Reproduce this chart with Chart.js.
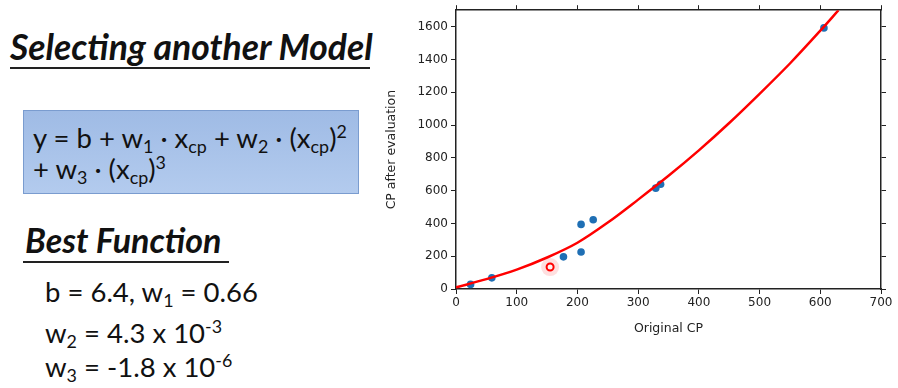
<!DOCTYPE html>
<html>
<head>
<meta charset="utf-8">
<script src="https://cdn.jsdelivr.net/npm/chart.js@4.4.0/dist/chart.umd.min.js"></script>
<style>
  body { margin: 0; background: #fff; width: 898px; height: 388px; overflow: hidden; position: relative; font-family: Lato, "Open Sans", sans-serif; color: #111; }
  .t { position: absolute; white-space: nowrap; line-height: 1; }
  .head { font-weight: bold; font-style: italic; }
  .rule { position: absolute; height: 2px; background: #222; }
  .box { position: absolute; left: 23px; top: 110px; width: 334px; height: 82px;
         background: linear-gradient(to bottom, #9fbbe5, #b3cbee); border: 1px solid #7a9ccf; }
  sub { font-size: 0.65em; vertical-align: -0.3em; line-height: 0; }
  sup { font-size: 0.65em; vertical-align: 0.55em; line-height: 0; }
  #wrap { position: absolute; left: 380px; top: 0; width: 518px; height: 340px; }
</style>
</head>
<body>
<div class="t head" style="left:10px; top:29px; font-size:35.5px;">Selecting another Model</div>
<div class="rule" style="left:10px; top:67px; width:360px;"></div>

<div class="box"></div>
<div class="t" style="left:33px; top:124px; font-size:27.5px;">y = b + w<sub>1</sub> &middot; x<sub>cp</sub> + w<sub>2</sub> &middot; (x<sub>cp</sub>)<sup>2</sup></div>
<div class="t" style="left:33px; top:155px; font-size:27.5px;">+ w<sub>3</sub> &middot; (x<sub>cp</sub>)<sup>3</sup></div>

<div class="t head" style="left:25px; top:223px; font-size:34px;">Best Function</div>
<div class="rule" style="left:23px; top:261px; width:206px;"></div>

<div class="t" style="left:45px; top:278px; font-size:27.5px;">b = 6.4, w<sub>1</sub> = 0.66</div>
<div class="t" style="left:45px; top:319px; font-size:27.5px;">w<sub>2</sub> = 4.3 x 10<sup>-3</sup></div>
<div class="t" style="left:45px; top:353px; font-size:27.5px;">w<sub>3</sub> = -1.8 x 10<sup>-6</sup></div>

<div id="wrap"><canvas id="chartCanvas"></canvas></div>

<script>
// observed pokemon: original CP vs CP after evolution
const cpBefore = [24, 59, 177, 206, 206, 226, 329, 337, 606];
const cpAfter  = [28, 68, 196, 226, 394, 422, 615, 639, 1592];

// highlighted test point
const testX = [155];
const testY = [134];

// fitted curve
const curveX = [0, 50, 100, 150, 200, 250, 300, 350, 400, 450, 500, 550, 600, 630];
const curveY = [10, 60, 118, 192, 282, 405, 545, 690, 845, 1012, 1190, 1375, 1575, 1700];

const xTicks = [0, 100, 200, 300, 400, 500, 600, 700];
const yTicks = [0, 200, 400, 600, 800, 1000, 1200, 1400, 1600];

function pairs(xs, ys) {
    return xs.map((x, i) => ({x: x, y: ys[i]}));
}

const tickFont = {family: 'DejaVu Sans', size: 12};
const titleFont = {family: 'DejaVu Sans', size: 12.5};
const frame = {display: true, color: '#222', width: 1.5};

function fixedSize(w, h) {
    return function (scale) {
        if (w !== null) scale.width = w;
        if (h !== null) scale.height = h;
    };
}

function setTicks(list) {
    return function (scale) {
        scale.ticks = list.map((v) => ({value: v}));
    };
}

const plain = (v) => String(v);

new Chart(document.getElementById('chartCanvas'), {
    type: 'scatter',
    data: {
        datasets: [
            {
                label: 'fit',
                type: 'line',
                data: pairs(curveX, curveY),
                borderColor: '#ff0000',
                borderWidth: 2.5,
                pointRadius: 0,
                cubicInterpolationMode: 'monotone',
                order: 0
            },
            {
                label: 'glow',
                data: pairs(testX, testY),
                backgroundColor: 'rgba(255, 80, 80, 0.18)',
                borderWidth: 0,
                pointRadius: 9,
                order: 3
            },
            {
                label: 'test',
                data: pairs(testX, testY),
                backgroundColor: 'rgba(255,255,255,0.6)',
                borderColor: '#ff0000',
                borderWidth: 2,
                pointRadius: 3.5,
                order: 1
            },
            {
                label: 'train',
                data: pairs(cpBefore, cpAfter),
                backgroundColor: '#1f6fb4',
                borderWidth: 0,
                pointRadius: 3.8,
                order: 2
            }
        ]
    },
    options: {
        responsive: true,
        maintainAspectRatio: false,
        animation: false,
        layout: {padding: 0},
        plugins: {legend: {display: false}, tooltip: {enabled: false}},
        scales: {
            x: {
                type: 'linear', position: 'bottom', min: 0, max: 700,
                afterBuildTicks: setTicks(xTicks),
                afterFit: fixedSize(null, 51),
                border: frame,
                grid: {drawOnChartArea: false, drawTicks: true, tickLength: 5, color: '#222'},
                ticks: {font: tickFont, color: '#222', padding: 2, maxRotation: 0, callback: plain},
                title: {display: true, text: 'Original CP', font: titleFont, color: '#222', padding: {top: 1}}
            },
            x2: {
                type: 'linear', position: 'top', min: 0, max: 700,
                afterBuildTicks: setTicks(xTicks),
                afterFit: fixedSize(null, 6),
                border: frame,
                grid: {drawOnChartArea: false, drawTicks: true, tickLength: 5, color: '#222'},
                ticks: {display: false}
            },
            y: {
                type: 'linear', position: 'left', min: 0, max: 1700,
                afterBuildTicks: setTicks(yTicks),
                afterFit: fixedSize(76, null),
                border: frame,
                grid: {drawOnChartArea: false, drawTicks: true, tickLength: 5, color: '#222'},
                ticks: {font: tickFont, color: '#222', padding: 3, callback: plain},
                title: {display: true, text: 'CP after evaluation', font: titleFont, color: '#222', padding: {top: 4, bottom: 0}}
            },
            y2: {
                type: 'linear', position: 'right', min: 0, max: 1700,
                afterBuildTicks: setTicks(yTicks),
                afterFit: fixedSize(17, null),
                border: frame,
                grid: {drawOnChartArea: false, drawTicks: true, tickLength: 5, color: '#222'},
                ticks: {display: false}
            }
        }
    }
});
</script>
</body>
</html>
